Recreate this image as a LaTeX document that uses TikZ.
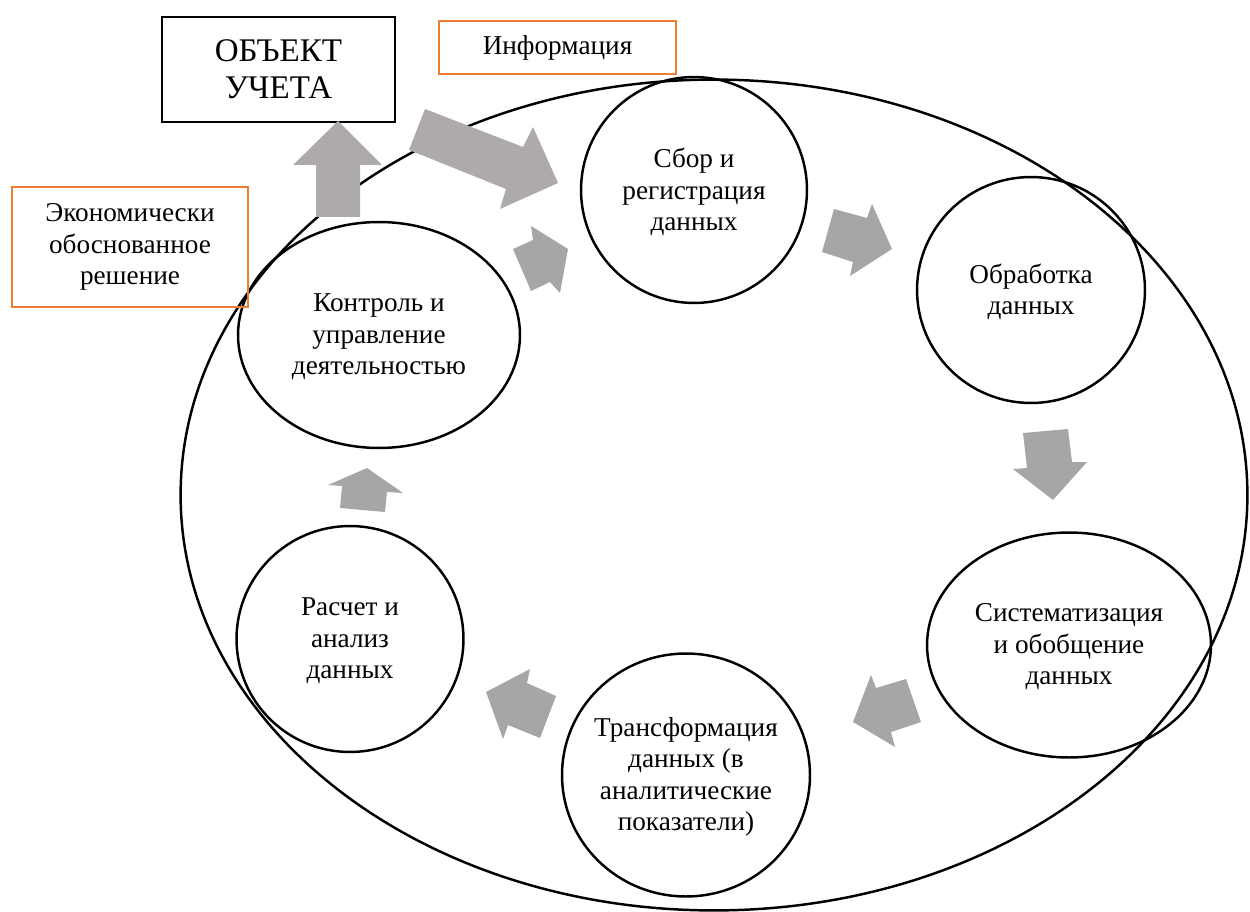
\documentclass[tikz,border=0pt]{standalone}
\usepackage{fontspec}
\setmainfont{Liberation Serif}
\usetikzlibrary{shapes.geometric}
\definecolor{accent}{HTML}{ED7D31}
\definecolor{bigarrow}{HTML}{AEAAAA}
\definecolor{smallarrow}{HTML}{A6A6A6}
\begin{document}
\begin{tikzpicture}[x=0.02cm,y=-0.02cm,
  stage/.style={ellipse, draw, line width=1.4pt, inner sep=0pt},
  stagetext/.style={align=center, inner sep=0pt, font=\fontsize{15.5}{17.9}\selectfont},
  note/.style={rectangle, draw=accent, line width=1.3pt, inner sep=0pt, align=center,
    font=\fontsize{15.5}{17.9}\selectfont},
  objbox/.style={rectangle, draw, line width=1.3pt, inner sep=0pt, align=center,
    font=\fontsize{18.8}{21}\selectfont},
  bigblock/.style={fill=bigarrow, draw=none},
  smallblock/.style={fill=smallarrow, draw=none}]
\useasboundingbox (0,0) rectangle (1250,912);

% enclosing cycle
\node[stage, minimum width=21.34cm, minimum height=16.62cm] (frame) at (714,495) {};

% stages of the cycle
\node[stage, minimum width=4.52cm, minimum height=4.52cm] (sbor) at (694,190) {};
\node[stagetext] at ([yshift=-0.04cm]sbor.center) {Сбор и\\регистрация\\данных};

\node[stage, minimum width=4.56cm, minimum height=4.52cm] (obr) at (1031,290) {};
\node[stagetext] at ([yshift=-0.04cm]obr.center) {Обработка\\данных};

\node[stage, minimum width=5.68cm, minimum height=4.5cm] (sist) at (1069,645) {};
\node[stagetext] at ([yshift=-0.04cm]sist.center) {Систематизация\\и обобщение\\данных};

\node[stage, minimum width=4.96cm, minimum height=4.86cm] (trans) at (686,775) {};
\node[stagetext] at ([yshift=-0.04cm]trans.center) {Трансформация\\данных (в\\аналитические\\показатели)};

\node[stage, minimum width=4.54cm, minimum height=4.52cm] (rasch) at (350,639) {};
\node[stagetext] at ([yshift=-0.04cm]rasch.center) {Расчет и\\анализ\\данных};

\node[stage, minimum width=5.64cm, minimum height=4.52cm] (kontr) at (379,335) {};
\node[stagetext] at ([yshift=-0.04cm]kontr.center) {Контроль и\\управление\\деятельностью};

% boxes outside the cycle
\node[objbox, minimum width=4.66cm, minimum height=2.1cm] (obj) at (278.5,69.5) {ОБЪЕКТ\\УЧЕТА};
\node[note, minimum width=4.74cm, minimum height=1.06cm] (info) at (557.5,47.5) {Информация};
\node[note, minimum width=4.72cm, minimum height=2.4cm] (econ) at (130,247) {Экономически\\обоснованное\\решение};

% decision goes up to the object
\fill[bigblock] (316,217) -- (316,165) -- (293,165) -- (338,121) -- (382,165) -- (360,165) -- (360,217) -- cycle;
% information flows into collection
\fill[bigblock] (425,109) -- (523,147) -- (533,127) -- (558,183) -- (500,209) -- (506,189) -- (409,150) -- cycle;

% arrows between the stages
\fill[smallblock] (513,249) -- (533,240) -- (531,226) -- (568,249) -- (560,293) -- (550,282) -- (531,291) -- cycle;
\fill[smallblock] (834,209) -- (867,218) -- (872,204) -- (892,249) -- (850,276) -- (853,262) -- (822,252) -- cycle;
\fill[smallblock] (1023,433) -- (1068,429) -- (1072,462) -- (1087,462) -- (1053,500) -- (1013,469) -- (1027,468) -- cycle;
\fill[smallblock] (871,675) -- (876,688) -- (906,679) -- (921,722) -- (891,732) -- (895,747) -- (853,722) -- cycle;
\fill[smallblock] (530,669) -- (527,683) -- (556,696) -- (540,738) -- (508,725) -- (503,739) -- (486,692) -- cycle;
\fill[smallblock] (328,485) -- (367,468) -- (403,493) -- (387,492) -- (385,512) -- (340,508) -- (342,486) -- cycle;
\end{tikzpicture}
\end{document}
